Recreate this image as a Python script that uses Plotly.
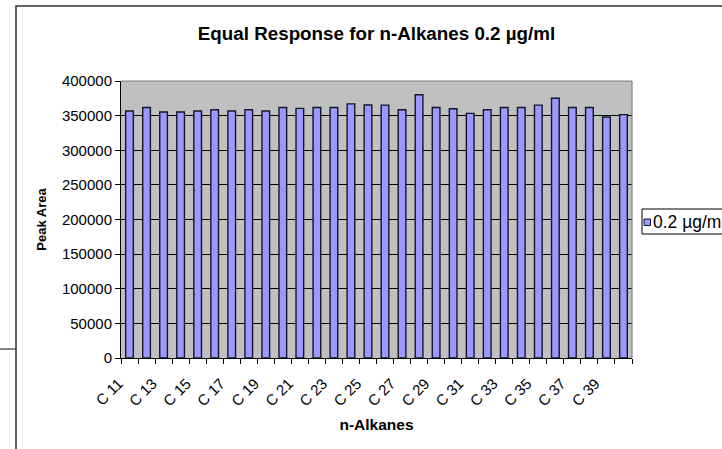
import plotly.graph_objects as go

categories = ["C 11", "C 12", "C 13", "C 14", "C 15", "C 16", "C 17", "C 18", "C 19", "C 20",
              "C 21", "C 22", "C 23", "C 24", "C 25", "C 26", "C 27", "C 28", "C 29", "C 30",
              "C 31", "C 32", "C 33", "C 34", "C 35", "C 36", "C 37", "C 38", "C 39", "C 40"]
values = [356600, 361800, 355200, 355200, 356600, 358500, 356600, 358500, 356600, 361800,
          360400, 361800, 361800, 367000, 365300, 365100, 358500, 380200, 361800, 359900,
          353300, 358500, 361800, 361800, 365100, 375000, 361800, 361800, 348100, 351400]
series_name = "0.2 µg/ml"
title_text = "Equal Response for n-Alkanes 0.2 µg/ml"
y_ticks = [0, 50000, 100000, 150000, 200000, 250000, 300000, 350000, 400000]

x_idx = list(range(len(categories)))
FONT = "Liberation Sans, Arial, sans-serif"
BAR_FILL = "#9999FF"
BAR_LINE = "#15152a"

FIG_W, FIG_H = 722, 449
PL, PT, PR, PB = 121, 81, 632, 358  # plot-area box in pixels
PW, PH = PR - PL, PB - PT


def px(x):
    return (x - PL) / PW


def py(y):
    return (PB - y) / PH


fig = go.Figure()
fig.add_trace(go.Bar(
    x=x_idx, y=values, name=series_name, width=0.45,
    marker=dict(color=BAR_FILL, line=dict(color=BAR_LINE, width=1.4)),
    showlegend=False,
))

fig.update_layout(
    width=FIG_W, height=FIG_H,
    margin=dict(l=PL, r=FIG_W - PR, t=PT, b=FIG_H - PB, autoexpand=False),
    paper_bgcolor="white", plot_bgcolor="#C0C0C0",
    font=dict(family=FONT, size=14, color="black"),
    title=dict(text="<b>" + title_text + "</b>", x=0.5, xref="paper", xanchor="center",
               y=1 - 33 / FIG_H, yanchor="middle", font=dict(size=18.8, family=FONT)),
    showlegend=False,
    bargap=0.55,
)

fig.update_xaxes(
    range=[-0.5, len(categories) - 0.5],
    tickmode="array", tickvals=x_idx[::2], ticktext=categories[::2],
    tickangle=-45, ticks="", ticklabelshift=-11, ticklabelstandoff=10,
    tickfont=dict(size=15, family=FONT),
    minor=dict(tickmode="linear", tick0=-0.5, dtick=1, ticks="outside", ticklen=5,
               tickcolor="black", showgrid=False),
    showline=True, linecolor="black", linewidth=1, showgrid=False, zeroline=False,
    title=dict(text="<b>n-Alkanes</b>", font=dict(size=15.5, family=FONT), standoff=10),
)
fig.update_yaxes(
    range=[0, 400000], tickmode="array", tickvals=y_ticks, tickformat="d",
    ticks="outside", ticklen=5, tickcolor="black",
    tickfont=dict(size=15, family=FONT),
    showline=True, linecolor="black", linewidth=1,
    showgrid=True, gridcolor="black", gridwidth=1, zeroline=False,
    title=dict(text="<b>Peak Area</b>", font=dict(size=13, family=FONT), standoff=12),
)

# grey plot-area border on top and right
fig.add_shape(type="line", xref="paper", yref="paper", x0=0, x1=1, y0=1, y1=1,
              line=dict(color="#808080", width=1.2), layer="above")
fig.add_shape(type="line", xref="paper", yref="paper", x0=1, x1=1, y0=0, y1=1,
              line=dict(color="#808080", width=1.2), layer="above")
# outer chart frame
fig.add_shape(type="rect", xref="paper", yref="paper",
              x0=px(16), x1=px(FIG_W + 40), y0=py(FIG_H + 40), y1=py(6),
              line=dict(color="#333333", width=1.5), layer="below")
fig.add_shape(type="line", xref="paper", yref="paper",
              x0=px(0), x1=px(16), y0=py(349), y1=py(349),
              line=dict(color="#333333", width=1.2))

# legend box (cut by the right edge as in the original)
fig.add_shape(type="rect", xref="paper", yref="paper",
              x0=px(642), x1=px(FIG_W + 40), y0=py(234), y1=py(209),
              line=dict(color="black", width=1), fillcolor="white", layer="above")
fig.add_shape(type="rect", xref="paper", yref="paper",
              x0=px(644), x1=px(650.5), y0=py(225.5), y1=py(219),
              line=dict(color=BAR_LINE, width=1), fillcolor=BAR_FILL, layer="above")
fig.add_annotation(text=series_name, xref="paper", yref="paper",
                   x=px(651), y=py(222), xanchor="left", yanchor="middle",
                   showarrow=False, font=dict(size=17.5, family=FONT, color="black"))

fig.write_html(
    "out.html",
    config={"displayModeBar": False},
    post_script="document.body.style.margin='0';document.body.style.overflow='hidden';"
                "document.documentElement.style.overflow='hidden';",
)
